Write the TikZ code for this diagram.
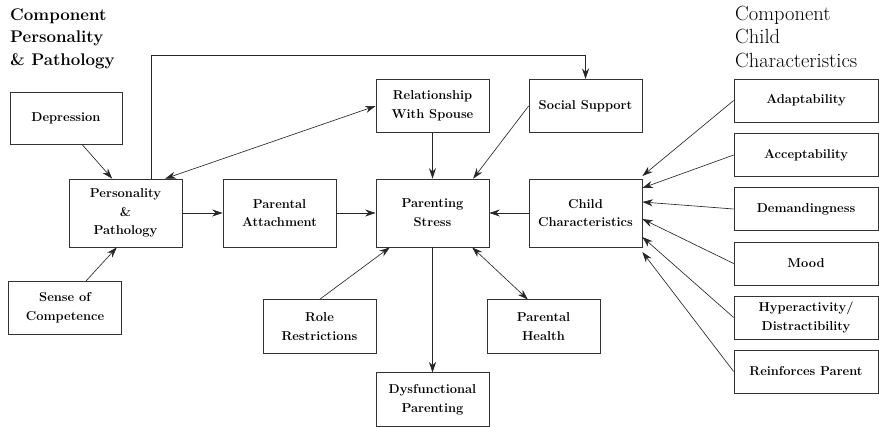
\documentclass[tikz,border=0pt]{standalone}
\usetikzlibrary{arrows.meta}
\def\tipshape{Stealth[length=9pt, width=6pt]}
\begin{document}
\begin{tikzpicture}[x=0.03cm, y=-0.03cm,
  box/.style={draw=black!80, line width=0.6pt, align=center, inner sep=1pt,
    font=\bfseries\fontsize{11}{16}\selectfont},
  tall/.style={box, minimum width=3.39cm, minimum height=2.04cm},
  flat/.style={box, minimum width=3.39cm, minimum height=1.6cm},
  trait/.style={box, minimum width=4.32cm, minimum height=1.29cm},
  arr/.style={draw=black!85, line width=0.55pt, -{\tipshape}},
  twoarr/.style={arr, {\tipshape}-{\tipshape}}]
  \useasboundingbox (0,0) rectangle (879,427);

  \node[anchor=north west, align=left, inner sep=0pt,
    font=\bfseries\fontsize{14.4}{19.6}\selectfont] (lefttitle) at (10,8)
    {Component\\Personality\\\& Pathology};
  \node[anchor=north west, align=left, inner sep=0pt,
    font=\fontsize{17.5}{20}\selectfont] (righttitle) at (735,6)
    {Component\\Child\\Characteristics};

  \node[box, minimum width=3.36cm, minimum height=1.56cm] (depr) at (66,118) {Depression};
  \node[tall] (pers) at (125.5,213) {Personality\\\&\\Pathology};
  \node[flat] (sense) at (65,308) {Sense of\\Competence};
  \node[tall] (attach) at (279.5,213) {Parental\\Attachment};
  \node[tall] (stress) at (432.5,213) {Parenting\\Stress};
  \node[flat] (spouse) at (432.5,106) {Relationship\\With Spouse};
  \node[flat] (support) at (585.5,106) {Social Support};
  \node[tall] (child) at (585.5,213) {Child\\Characteristics};
  \node[flat] (role) at (319.5,326.5) {Role\\Restrictions};
  \node[flat] (health) at (543.5,326.5) {Parental\\Health};
  \node[flat] (dysf) at (432.5,399.5) {Dysfunctional\\Parenting};

  \node[trait] (adapt) at (806,100.5) {Adaptability};
  \node[trait] (accept) at (806,155) {Acceptability};
  \node[trait] (demand) at (806,209) {Demandingness};
  \node[trait] (mood) at (806,263.5) {Mood};
  \node[trait] (hyper) at (806,317.5) {Hyperactivity/\\Distractibility};
  \node[trait] (reinf) at (806,371.5) {Reinforces Parent};

  \draw[arr] ([xshift=0.48cm]depr.south) -- ([xshift=-0.4cm]pers.north);
  \draw[arr] ([xshift=0.63cm]sense.north) -- ([xshift=-0.26cm]pers.south);
  \draw[arr] (pers) -- (attach);
  \draw[arr] (attach) -- (stress);
  \draw[twoarr] ([xshift=1.19cm]pers.north) -- (spouse.west);
  \draw[arr] ([xshift=0.77cm]pers.north) |- ([yshift=0.72cm]support.north) -- (support.north);
  \draw[arr] (spouse) -- (stress);
  \draw[arr] (support.west) -- ([xshift=1.22cm]stress.north);
  \draw[arr] (child) -- (stress);
  \draw[arr] (stress) -- (dysf);
  \draw[arr] (role.north) -- ([xshift=-1.28cm]stress.south);
  \draw[twoarr] ([xshift=1.19cm]stress.south) -- ([xshift=-0.47cm]health.north);

  \draw[arr] (adapt.west) -- ([yshift=1.11cm]child.east);
  \draw[arr] (accept.west) -- ([yshift=0.75cm]child.east);
  \draw[arr] (demand.west) -- ([yshift=0.33cm]child.east);
  \draw[arr] (mood.west) -- ([yshift=-0.18cm]child.east);
  \draw[arr] (hyper.west) -- ([yshift=-0.72cm]child.east);
  \draw[arr] (reinf.west) -- ([yshift=-1.17cm]child.east);
\end{tikzpicture}
\end{document}
